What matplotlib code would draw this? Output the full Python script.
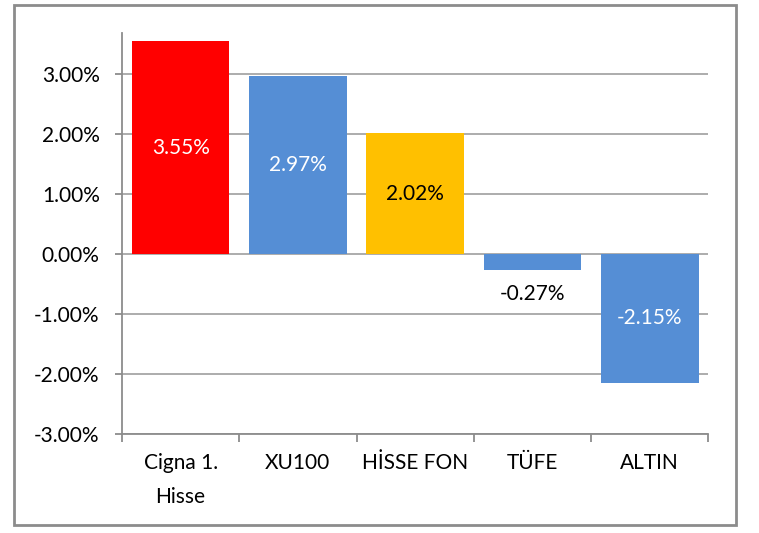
import matplotlib.pyplot as plt
from matplotlib.patches import Rectangle
from matplotlib.ticker import FuncFormatter, FixedLocator

categories = ["Cigna 1.\nHisse", "XU100", "HİSSE FON", "TÜFE", "ALTIN"]
values = [3.55, 2.97, 2.02, -0.27, -2.15]
colors = ["#FF0000", "#558ED5", "#FFC000", "#558ED5", "#558ED5"]
label_colors = ["white", "white", "black", "black", "white"]
yticks = [-3, -2, -1, 0, 1, 2, 3]

plt.rcParams["font.family"] = ["Lato", "DejaVu Sans"]
FS = 15

fig = plt.figure(figsize=(7.59, 5.33), dpi=100)
ax = fig.add_axes([0.1607, 0.1863, 0.7725, 0.7518])

# chart border
fig.patches.append(Rectangle((0.0185, 0.015), 0.9513, 0.9756, transform=fig.transFigure,
                             fill=False, edgecolor="#8C8C8C", linewidth=2))

x = list(range(len(categories)))
bars = ax.bar(x, values, width=0.833, color=colors, zorder=3)

for i, (b, v) in enumerate(zip(bars, values)):
    txt = f"{v:.2f}%"
    if abs(v) < 1:
        ax.annotate(txt, (b.get_x() + b.get_width() / 2, v), xytext=(0, -17),
                    textcoords="offset points", ha="center", va="center",
                    fontsize=FS, color=label_colors[i])
    else:
        ax.text(b.get_x() + b.get_width() / 2, v / 2, txt, ha="center", va="center",
                fontsize=FS, color=label_colors[i], zorder=4)

ax.set_xlim(-0.5, len(categories) - 0.5)
ax.set_ylim(-3, 3.69)
ax.set_yticks(yticks)
ax.yaxis.set_major_formatter(FuncFormatter(lambda v, p: f"{v:.2f}%"))
ax.grid(axis="y", color="#A6A6A6", linewidth=1.3, zorder=0)

ax.set_xticks(x)
ax.set_xticklabels(categories, fontsize=FS, linespacing=1.85)
ax.xaxis.set_minor_locator(FixedLocator([i - 0.5 for i in range(len(categories) + 1)]))
ax.tick_params(axis="x", which="major", length=0, pad=14)
ax.tick_params(axis="x", which="minor", length=6, width=1.3, color="#8C8C8C", direction="out")
ax.tick_params(axis="y", length=5, width=1.3, color="#8C8C8C", pad=11, labelsize=FS)

for s in ["top", "right"]:
    ax.spines[s].set_visible(False)
for s in ["left", "bottom"]:
    ax.spines[s].set_color("#8C8C8C")
    ax.spines[s].set_linewidth(1.3)

fig.savefig("out.png", dpi=100)
